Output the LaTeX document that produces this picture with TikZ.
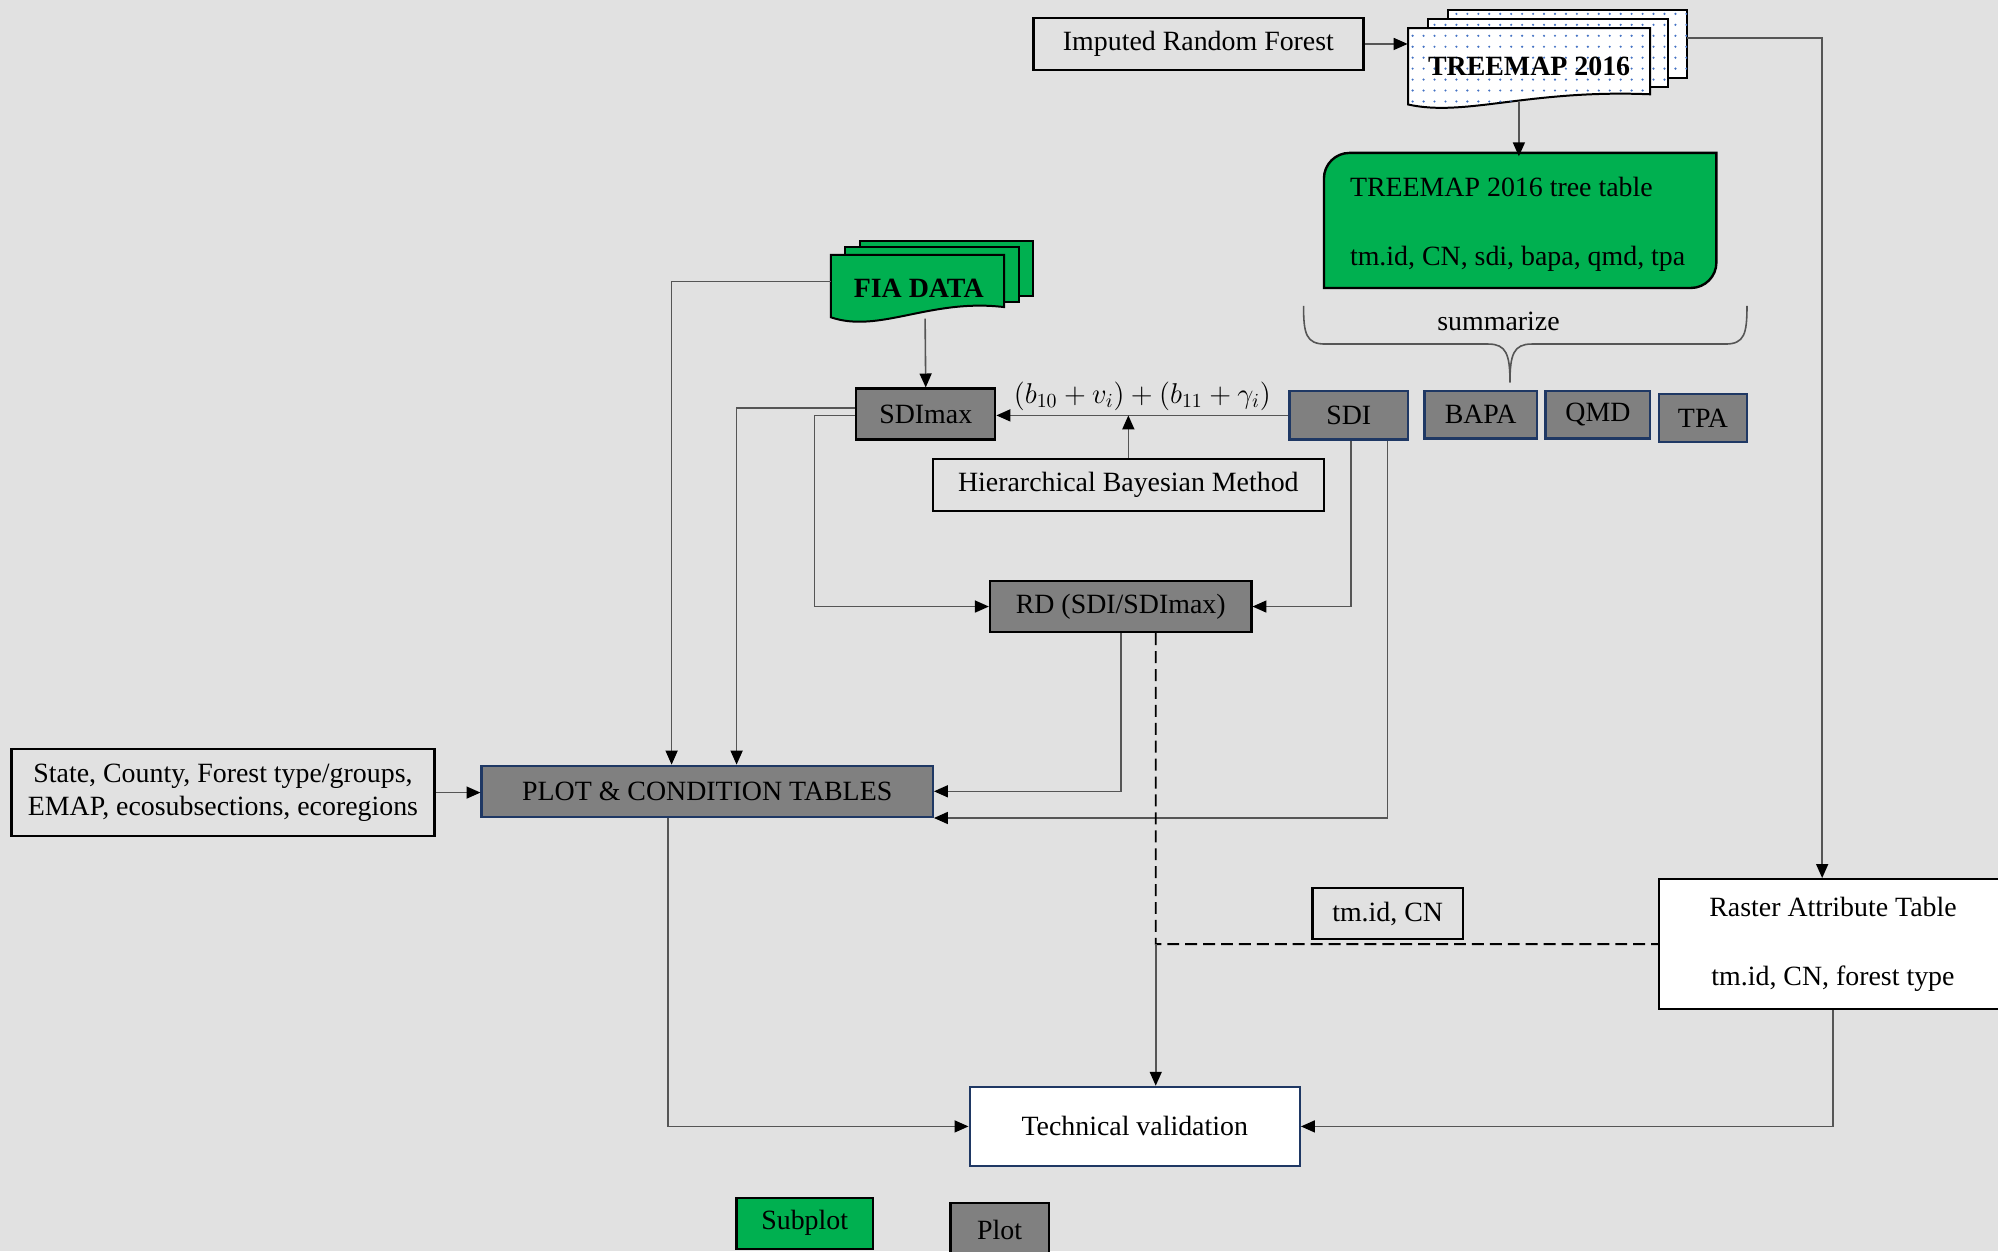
\documentclass[tikz,border=0pt]{standalone}
\usepackage{fontspec}
\setmainfont{Liberation Serif}
\usetikzlibrary{arrows.meta,calc,patterns.meta}
\definecolor{bggray}{HTML}{E1E1E1}
\definecolor{subgreen}{HTML}{00B050}
\definecolor{boxgray}{HTML}{808080}
\definecolor{navyline}{HTML}{1F3864}
\definecolor{linegray}{HTML}{555555}
\definecolor{dotblue}{HTML}{4472C4}
\tikzset{
	plainbox/.style={draw=black, line width=1.2pt, inner sep=0pt, align=center},
	graybox/.style={plainbox, fill=boxgray},
	navybox/.style={plainbox, draw=navyline, fill=boxgray},
	sz/.style 2 args={minimum width=#1*0.64pt, minimum height=#2*0.64pt},
	conn/.style={draw=linegray, line width=0.8pt},
	arr/.style={conn, -{Triangle[length=7pt, width=6pt, color=black]}},
	docpage/.style={draw=black, line width=1pt, fill=white, postaction={pattern={Dots[distance=5.5pt, radius=0.6pt]}, pattern color=dotblue}},
	fiapage/.style={draw=black, line width=1pt, fill=subgreen}
}

\begin{document}
\begin{tikzpicture}[x=0.64pt, y=-0.64pt, font={\fontsize{14pt}{16.8pt}\selectfont}]
	\fill[bggray] (0,0) rectangle (1568,982);
	\useasboundingbox (0,0) rectangle (1568,982);

			% treemap stack
			\draw[docpage] (1136,8) rectangle (1324,61);
			\draw[docpage] (1121,15) rectangle (1309,68);
			\draw[docpage] (1105,22) -- (1295,22) -- (1295,74) .. controls (1200,70) and (1150,92) .. (1105,82) -- cycle;
			\node (treemap) at (1200,52) [sz={190}{52}] {\textbf{TREEMAP 2016}};
				\coordinate (tmbot) at (1192,80);
				\coordinate (tmout) at (1324,30);
				\coordinate (tmdrop) at (1430,30);
			\node (irf) at (940.5,34.5) [plainbox, sz={259}{41}] {Imputed Random Forest};
			% tree table
			\draw[fill=subgreen, line width=1.2pt] (1039,226) -- (1039,140) .. controls (1039,129) and (1048,120) .. (1059,120) -- (1347,120) -- (1347,206) .. controls (1347,217) and (1338,226) .. (1327,226) -- cycle;
			\node (treetbl) at (1191,176) [sz={308}{106}, align=left] {TREEMAP 2016 tree table\\[18pt]tm.id, CN, sdi, bapa, qmd, tpa};
			\draw[conn] (1023,240) .. controls (1023,262) and (1025,270) .. (1040,270) -- (1168,270) .. controls (1182,270) and (1185,278) .. (1185,300);
			\draw[conn] (1371,240) .. controls (1371,262) and (1369,270) .. (1354,270) -- (1202,270) .. controls (1188,270) and (1185,278) .. (1185,300);
			\node (summ) at (1176,252) {summarize};

			% FIA stack
			\draw[fiapage] (675,189) rectangle (811,232);
			\draw[fiapage] (663,194) rectangle (800,237);
			\draw[fiapage] (652,200) -- (788,200) -- (788,241) .. controls (730,234) and (690,262) .. (652,249) -- cycle;
			\node (fia) at (721,226) {\textbf{FIA DATA}};
				\coordinate (fiaw) at (652,221);
				\coordinate (fiabot) at (726,250);

			\node (sdimax) at (726.5,325) [graybox, sz={109}{40}] {SDImax};
			\node (sdi) at (1058.5,326) [navybox, sz={93}{38}] {SDI};
			\node (bapa) at (1162,325.5) [navybox, sz={88}{37}] {BAPA};
			\node (qmd) at (1254,325.5) [navybox, sz={82}{37}] {QMD};
			\node (tpa) at (1336.5,328) [navybox, sz={69}{38}] {TPA};
			\node (hbm) at (885.5,380.5) [plainbox, sz={307}{41}] {Hierarchical Bayesian Method};
			\node (rd) at (879.5,476) [graybox, sz={205}{40}] {RD (SDI/SDImax)};
			\node (state) at (175,622) [plainbox, sz={332}{68}] {State, County, Forest type/groups,\\EMAP, ecosubsections, ecoregions};
			\node (plotcond) at (555,621) [navybox, sz={354}{40}] {PLOT \& CONDITION TABLES};
			\node (tmid) at (1089,717) [plainbox, sz={118}{40}] {tm.id, CN};
			\node (raster) at (1438.5,741) [plainbox, fill=white, sz={273}{102}] {Raster Attribute Table\\[18pt]tm.id, CN, forest type};
			\node (techval) at (890.5,884) [plainbox, draw=navyline, fill=white, sz={259}{62}] {Technical validation};
				\coordinate (jn) at (907,741);
			\node (legsub) at (631.5,960) [plainbox, fill=subgreen, sz={107}{40}] {Subplot};
			\node (legplot) at (784.5,965) [graybox, sz={77}{42}] {Plot};

			\draw[arr] (irf.east) -- (irf.east -| treemap.west);
			\draw[arr] (tmbot) -- (tmbot |- treetbl.north);
			\draw[arr] (tmout) -- (tmdrop) -- (tmdrop |- raster.north);
			\draw[arr] (fiaw) -| ($(plotcond.north west)+(150,0)$);
			\draw[arr] (fiabot) -- (sdimax.north);
			\draw[arr] ($(sdimax.west)+(0,-5)$) -| ($(plotcond.north west)+(201,0)$);
			\draw[arr] ($(sdimax.west)+(0,1)$) -- ++(-32,0) |- (rd.west);
			\draw[arr] (sdi.west) -- (sdi.west -| sdimax.east) node[midway, above, inner sep=2pt] {$(b_{10}+v_i)+(b_{11}+\gamma_i)$};
			\draw[arr] (hbm.north) -- (hbm.north |- sdi.west);
			\draw[arr] ($(sdi.south)+(1.5,0)$) |- (rd.east);
			\draw[arr] ($(sdi.south)+(30.5,0)$) |- (plotcond.south east);
			\draw[arr] (rd.south) |- (plotcond.east);
			\draw[arr] (state.east) -- (state.east -| plotcond.west);
			\draw[arr] ($(plotcond.south west)+(147,0)$) |- (techval.west);
			\draw[arr] (raster.south) |- (techval.east);
			\draw[black, line width=1pt, dash pattern=on 6pt off 3pt] ($(rd.south)+(27.5,0)$) -- (jn) -- (jn -| raster.west);
			\draw[arr] (jn) -- (jn |- techval.north);

\end{tikzpicture}
\end{document}
